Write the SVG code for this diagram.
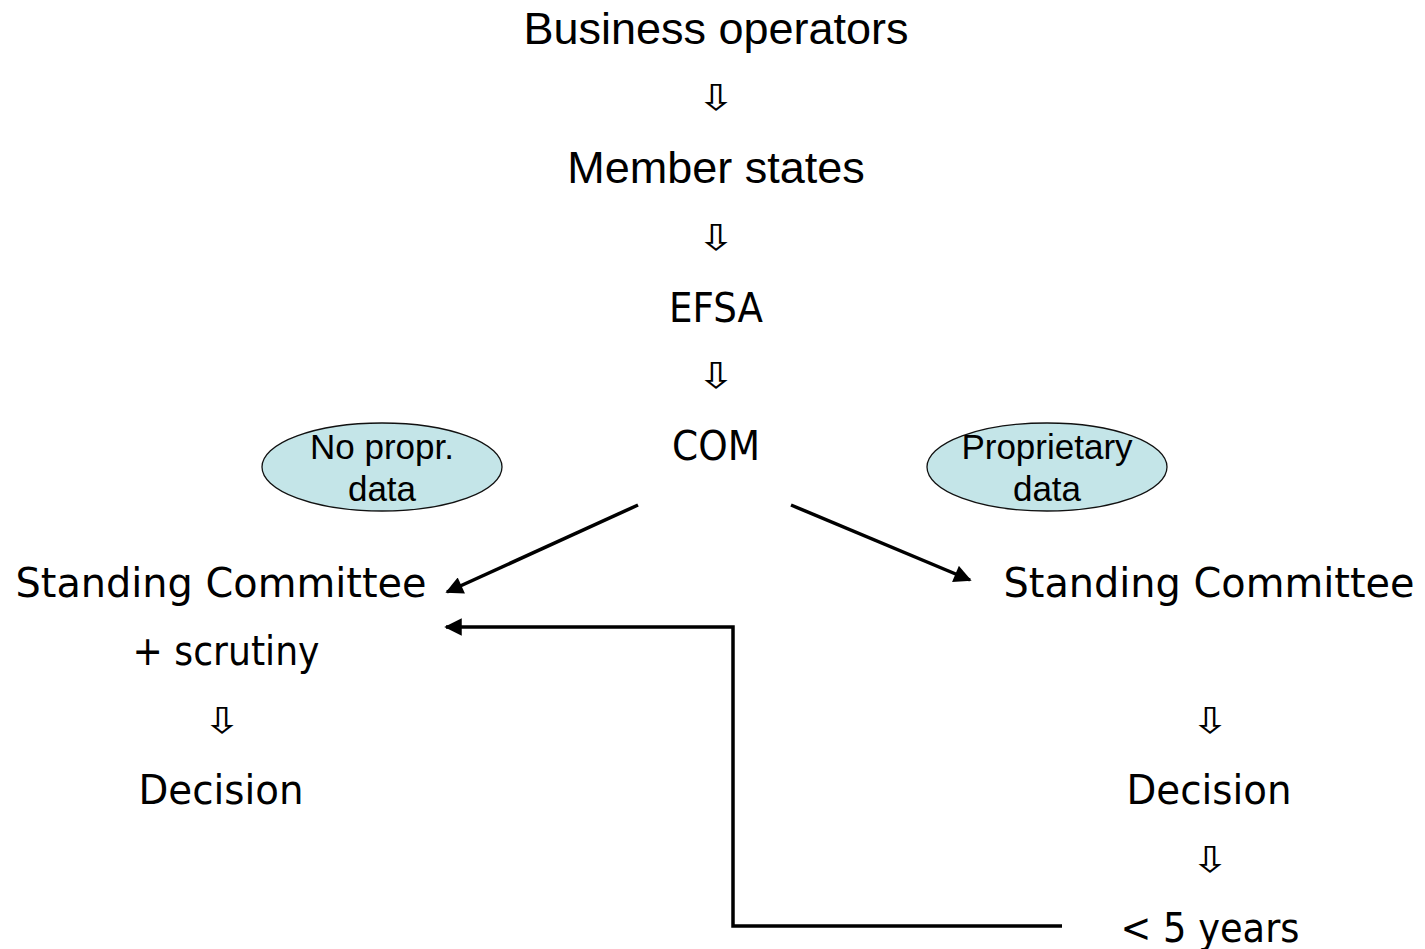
<svg xmlns="http://www.w3.org/2000/svg" width="1425" height="949" viewBox="0 0 1425 949">
  <style>
    .sans { font-family: "Liberation Sans", Arial, sans-serif; fill: #000; text-anchor: middle; }
    .big { font-size: 45px; }
    .bubble-text { font-size: 35px; }
    .hum { font-family: "DejaVu Sans", Verdana, sans-serif; font-size: 40px; fill: #000; text-anchor: middle; }
    .down { font-family: "DejaVu Sans", sans-serif; font-size: 36px; fill: #000; text-anchor: middle; }
    .bubble { fill: #c4e5e8; stroke: #111; stroke-width: 1.3; }
    .link { fill: none; stroke: #000; stroke-width: 3.5; }
  </style>
  <defs>
    <marker id="head" viewBox="0 0 10 10" refX="9" refY="5" markerWidth="5.5" markerHeight="5" orient="auto" markerUnits="strokeWidth">
      <path d="M0,0 L10,5 L0,10 z" fill="#000"/>
    </marker>
  </defs>
  <rect width="1425" height="949" fill="#fff"/>

  <!-- main chain -->
  <g id="business-operators"><text class="sans big" x="716" y="44">Business operators</text></g>
  <g id="step-1"><text class="down" transform="translate(716,110) scale(1.3,1)">⇩</text></g>
  <g id="member-states"><text class="sans big" x="716" y="183">Member states</text></g>
  <g id="step-2"><text class="down" transform="translate(716,250) scale(1.3,1)">⇩</text></g>
  <g id="efsa"><text class="hum" x="716" y="322" textLength="94" lengthAdjust="spacingAndGlyphs">EFSA</text></g>
  <g id="step-3"><text class="down" transform="translate(716,388) scale(1.3,1)">⇩</text></g>
  <g id="com"><text class="hum" x="716" y="460" textLength="88" lengthAdjust="spacingAndGlyphs">COM</text></g>

  <!-- data bubbles -->
  <g id="no-proprietary-data">
    <ellipse class="bubble" cx="382" cy="467" rx="120" ry="44"/>
    <text class="sans bubble-text" x="382" y="459">No propr.</text>
    <text class="sans bubble-text" x="382" y="501">data</text>
  </g>
  <g id="proprietary-data">
    <ellipse class="bubble" cx="1047" cy="467" rx="120" ry="44"/>
    <text class="sans bubble-text" x="1047" y="459">Proprietary</text>
    <text class="sans bubble-text" x="1047" y="501">data</text>
  </g>

  <!-- left branch -->
  <g id="standing-committee-scrutiny">
    <text class="hum" x="221" y="597" textLength="411" lengthAdjust="spacingAndGlyphs">Standing Committee</text>
    <text class="hum" x="226" y="665" textLength="187" lengthAdjust="spacingAndGlyphs">+ scrutiny</text>
  </g>
  <g id="step-left"><text class="down" transform="translate(222,733) scale(1.3,1)">⇩</text></g>
  <g id="decision-left"><text class="hum" x="221" y="804" textLength="165" lengthAdjust="spacingAndGlyphs">Decision</text></g>

  <!-- right branch -->
  <g id="standing-committee"><text class="hum" x="1209" y="597" textLength="411" lengthAdjust="spacingAndGlyphs">Standing Committee</text></g>
  <g id="step-right-1"><text class="down" transform="translate(1210,733) scale(1.3,1)">⇩</text></g>
  <g id="decision-right"><text class="hum" x="1209" y="804" textLength="165" lengthAdjust="spacingAndGlyphs">Decision</text></g>
  <g id="step-right-2"><text class="down" transform="translate(1210,872) scale(1.3,1)">⇩</text></g>
  <g id="five-years"><text class="hum" x="1210" y="942" textLength="179" lengthAdjust="spacingAndGlyphs">&lt; 5 years</text></g>

  <!-- connectors -->
  <g id="connectors">
    <line class="link" x1="638" y1="505" x2="447" y2="592" marker-end="url(#head)"/>
    <line class="link" x1="791" y1="505" x2="970" y2="580" marker-end="url(#head)"/>
    <polyline class="link" points="1062,926 733,926 733,627 446,627" marker-end="url(#head)"/>
  </g>
</svg>
